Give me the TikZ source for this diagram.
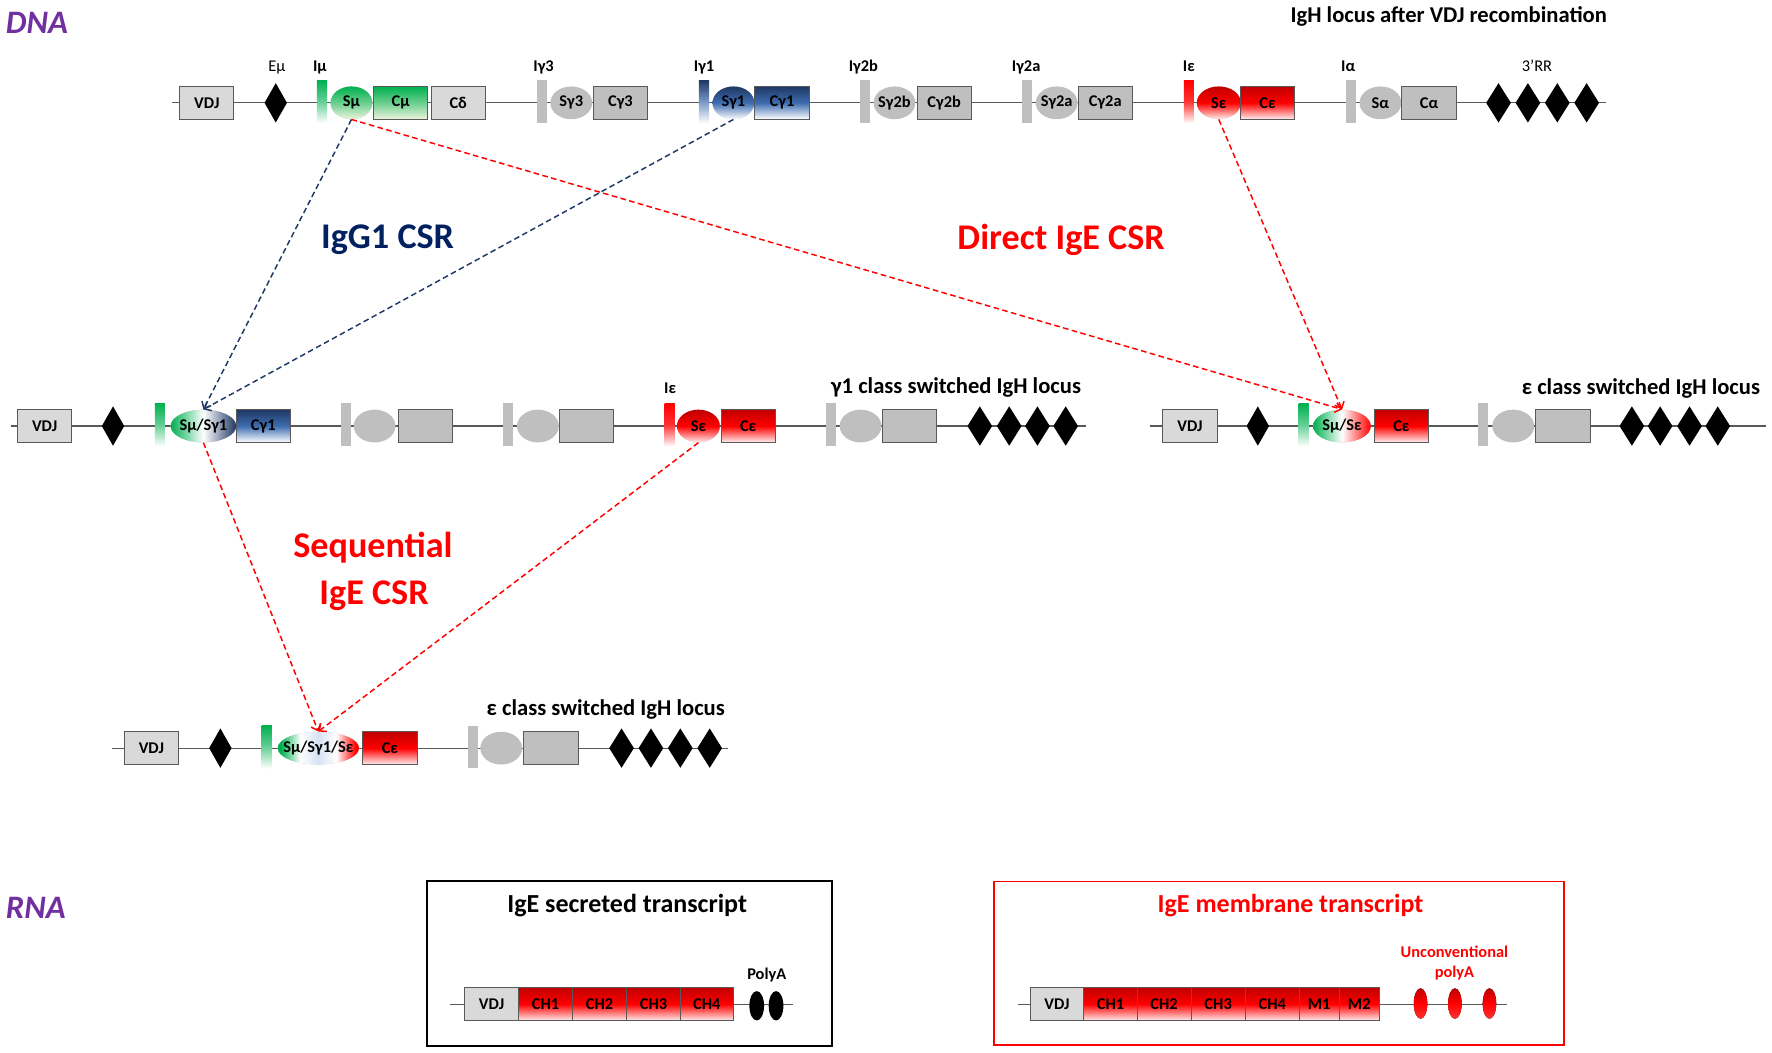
\documentclass[tikz,border=0pt]{standalone}
\usepackage{fontspec}
\setmainfont{Carlito}
\usetikzlibrary{shapes.geometric,arrows.meta,positioning}
\definecolor{dnapurple}{HTML}{7030A0}
\definecolor{sgreen}{HTML}{00B050}
\definecolor{sgreenlt}{HTML}{EEF4DC}
\definecolor{snavy}{HTML}{1F3864}
\definecolor{snavytxt}{HTML}{002060}
\definecolor{sblue}{HTML}{3E6DB0}
\definecolor{sbluelt}{HTML}{D5E2F3}
\definecolor{sred}{HTML}{FF0000}
\definecolor{sdred}{HTML}{C00000}
\definecolor{gfill}{HTML}{BFBFBF}
\definecolor{glight}{HTML}{D9D9D9}
\definecolor{gline}{HTML}{595959}
\pgfdeclarehorizontalshading{triswitch}{100bp}{color(0bp)=(sgreen); color(27bp)=(sgreen); color(39bp)=(white); color(50bp)=(sbluelt); color(61bp)=(white); color(73bp)=(sred); color(100bp)=(sred)}
\newcommand{\fsbox}{\fontsize{14.5}{16}\selectfont\bfseries}
\newcommand{\fsreg}{\fontsize{14.5}{16}\selectfont}
\newcommand{\fstitle}{\fontsize{20}{24}\selectfont\bfseries}
\newcommand{\fsrna}{\fontsize{23}{27}\selectfont\bfseries}
\newcommand{\fsbig}{\fontsize{32}{38}\selectfont\bfseries}
\newcommand{\fshead}{\fontsize{29}{34}\selectfont\bfseries\itshape}
\tikzset{
  dna/.style={draw=gline, line width=1pt},
  seg/.style={rectangle, draw=gline, line width=0.8pt, fill=gfill, minimum width=48pt, minimum height=29pt, inner sep=0pt, font=\fsbox},
  vdj/.style={seg, fill=glight},
  sreg/.style={ellipse, fill=gfill, minimum width=37pt, minimum height=29pt, inner sep=0pt},
  ibar/.style={rectangle, fill=gfill, minimum width=9pt, minimum height=38pt, inner sep=0pt},
  enh/.style={diamond, fill=black, minimum width=20pt, minimum height=35pt, inner sep=0pt},
  glab/.style={font=\fsbox, anchor=base, inner sep=0pt},
  % middle color last: top/bottom color reset it
  grn/.style={top color=sgreen, bottom color=sgreenlt, middle color=sgreen!55!sgreenlt},
  blu/.style={top color=snavy, bottom color=white, middle color=sblue},
  rd/.style={top color=sdred, bottom color=sred!6, middle color=sred},
  grnbar/.style={top color=sgreen, bottom color=white, middle color=sgreen!60!white},
  blubar/.style={top color=snavy, bottom color=white, middle color=sblue!70!white},
  redbar/.style={top color=sred, bottom color=white, middle color=sred!80!white},
  mgb/.style={left color=sgreen, right color=snavy, middle color=white},
  mgr/.style={left color=sgreen, right color=sred, middle color=white},
  frame/.style={rectangle, line width=1.5pt, inner sep=0pt},
  pa/.style={ellipse, fill=black, minimum width=13pt, minimum height=26pt, inner sep=0pt},
  csr/.style={dash pattern=on 5pt off 3pt, line width=1.3pt, -{Straight Barb[length=5pt,width=9pt]}}
}
\begin{document}
\begin{tikzpicture}[x=1pt,y=-1pt,every label/.append style={font=\fsbox}]
\useasboundingbox (0,0) rectangle (1568,931);
% headings
\node[anchor=base west, font=\fshead, text=dnapurple, inner sep=0pt] (dna) at (5,29.5) {DNA};
\node[anchor=base west, font=\fshead, text=dnapurple, inner sep=0pt] (rna) at (5,813) {RNA};
\node[anchor=base, font=\fstitle, inner sep=0pt] (tTop) at (1282,20) {IgH locus after VDJ recombination};

% germline locus
\coordinate (a0) at (152,91); \coordinate (a1) at (1421,91);
\draw[dna] (a0) -- (a1);
\node[vdj] (vdjA) at (183,91) {VDJ};
\node[enh] (EmuA) at (244,91) {};
\node[ibar,grnbar] (Imu) at (285,90) {};
\node[sreg,grn,label=center:Sμ] (Smu) at (311,91) {};
\node[seg,grn] (Cmu) at (354.5,91) {Cμ};
\node[vdj] (Cd) at (405.5,91) {Cδ};
\node[ibar] (Ig3) at (479.5,90) {};
\node[sreg,label=center:Sγ3] (Sg3) at (505.5,91) {};
\node[seg] (Cg3) at (549,91) {Cγ3};
\node[ibar,blubar] (Ig1) at (623,90) {};
\node[sreg,blu,label=center:Sγ1] (Sg1) at (649,91) {};
\node[seg,blu] (Cg1) at (692,91) {Cγ1};
\node[ibar] (Ig2b) at (765.5,90) {};
\node[sreg,label=center:Sγ2b] (Sg2b) at (791.5,91) {};
\node[seg] (Cg2b) at (835.5,91) {Cγ2b};
\node[ibar] (Ig2a) at (909,90) {};
\node[sreg,label=center:Sγ2a] (Sg2a) at (935,91) {};
\node[seg] (Cg2a) at (978,91) {Cγ2a};
\node[ibar,redbar] (Ie) at (1052,90) {};
\node[sreg,rd,minimum width=39pt,label=center:Sε] (Se) at (1078.5,91) {};
\node[seg,rd] (Ce) at (1121.5,91) {Cε};
\node[ibar] (Ia) at (1195.5,90) {};
\node[sreg,label=center:Sα] (Sa) at (1221.5,91) {};
\node[seg] (Ca) at (1264.5,91) {Cα};
\foreach \x [count=\i] in {1326,1352,1378,1404}
  \node[enh,minimum width=22pt] (rrA\i) at (\x,91) {};
\foreach \x/\t [count=\i] in {283/Iμ,481/Iγ3,623/Iγ1,764/Iγ2b,908/Iγ2a,1052/Iε,1193/Iα}
  \node[glab] (lA\i) at (\x,63) {\t};
\node[glab,font=\fsreg] (lEmu) at (245,63) {Eμ};
\node[glab,font=\fsreg] (lRR) at (1360,63) {3’RR};

% gamma1 switched locus
\coordinate (b0) at (10,377); \coordinate (b1) at (961,377);
\draw[dna] (b0) -- (b1);
\node[vdj] (vdjB) at (39.5,377) {VDJ};
\node[enh] (EmuB) at (100,377) {};
\node[ibar,grnbar] (ImuB) at (141.5,376) {};
\node[sreg,mgb,minimum width=58pt,label=center:Sμ/Sγ1] (SmuSg1) at (180,377) {};
\node[seg,blu] (Cg1B) at (233,377) {Cγ1};
\node[ibar] (gB1) at (306,376) {};
\node[sreg] (gB2) at (331.5,377) {};
\node[seg] (gB3) at (376.5,377) {};
\node[ibar] (gB4) at (449.5,376) {};
\node[sreg] (gB5) at (476,377) {};
\node[seg] (gB6) at (519,377) {};
\node[ibar,redbar] (IeB) at (592.5,376) {};
\node[sreg,rd,minimum width=38pt,label=center:Sε] (SeB) at (618,377) {};
\node[seg,rd] (CeB) at (662,377) {Cε};
\node[ibar] (gB7) at (735.5,376) {};
\node[sreg] (gB8) at (761.5,377) {};
\node[seg] (gB9) at (805,377) {};
\foreach \x [count=\i] in {867,893,918,943}
  \node[enh,minimum width=22pt] (rrB\i) at (\x,377) {};
\node[glab] (lIeB) at (593,348) {Iε};
\node[anchor=base, font=\fstitle, inner sep=0pt] (tB) at (846,348) {γ1 class switched IgH locus};

% epsilon switched locus (direct)
\coordinate (c0) at (1018,377); \coordinate (c1) at (1563,377);
\draw[dna] (c0) -- (c1);
\node[vdj] (vdjC) at (1053,377) {VDJ};
\node[enh] (EmuC) at (1113,377) {};
\node[ibar,grnbar] (ImuC) at (1153.5,376) {};
\node[sreg,mgr,minimum width=51pt,label=center:Sμ/Sε] (SmuSe) at (1187.5,377) {};
\node[seg,rd] (CeC) at (1240,377) {Cε};
\node[ibar] (gC1) at (1312.5,376) {};
\node[sreg] (gC2) at (1339,377) {};
\node[seg] (gC3) at (1383,377) {};
\foreach \x [count=\i] in {1444,1469,1495,1520}
  \node[enh,minimum width=22pt] (rrC\i) at (\x,377) {};
\node[anchor=base, font=\fstitle, inner sep=0pt] (tC) at (1452,349) {ε class switched IgH locus};

% epsilon switched locus (sequential)
\coordinate (d0) at (99.5,662); \coordinate (d1) at (644,662);
\draw[dna] (d0) -- (d1);
\node[vdj] (vdjD) at (134,662) {VDJ};
\node[enh] (EmuD) at (195,662) {};
\node[ibar,grnbar] (ImuD) at (236,661) {};
\node[sreg,shading=triswitch,shade,minimum width=72pt,label=center:Sμ/Sγ1/Sε] (tri) at (281.7,662) {};
\node[seg,rd] (CeD) at (345,662) {Cε};
\node[ibar] (gD1) at (418.5,661) {};
\node[sreg] (gD2) at (443.5,662) {};
\node[seg] (gD3) at (487.5,662) {};
\foreach \x [count=\i] in {550,576,602,628}
  \node[enh,minimum width=22pt] (rrD\i) at (\x,662) {};
\node[anchor=base, font=\fstitle, inner sep=0pt] (tD) at (536,633) {ε class switched IgH locus};

% recombinations
\draw[csr,snavy] (Smu.south) -- (SmuSg1.north);
\draw[csr,snavy] (Sg1.south) -- (SmuSg1.north);
\draw[csr,sred] (Smu.south) -- (SmuSe.north);
\draw[csr,sred] (Se.south) -- (SmuSe.north);
\draw[csr,sred] (SmuSg1.south) -- (tri.north);
\draw[csr,sred] (SeB.south) -- (tri.north);
\node[anchor=base, font=\fsbig, text=snavytxt, inner sep=0pt] (lIgG1) at (343,220) {IgG1 CSR};
\node[anchor=base, font=\fsbig, text=sred, inner sep=0pt] (lDir) at (939,221) {Direct IgE CSR};
\node[anchor=base, font=\fsbig, text=sred, inner sep=0pt] (lSeq1) at (330,493) {Sequential};
\node[anchor=base, font=\fsbig, text=sred, inner sep=0pt] (lSeq2) at (331,535) {IgE CSR};

% secreted transcript
\node[frame,draw=black,minimum width=358pt,minimum height=146pt] (secF) at (557,852.6) {};
\node[anchor=base, font=\fsrna, inner sep=0pt] (tSec) at (555,807) {IgE secreted transcript};
\coordinate (s0) at (398.5,889); \coordinate (s1) at (701.5,889);
\draw[dna] (s0) -- (s1);
\node[vdj,minimum height=29.5pt] (vdjS) at (435,888.5) {VDJ};
\foreach \x [count=\i] in {482.8,530.6,578.3,625.5}
  \node[seg,rd,minimum width=47.6pt,minimum height=29.5pt] (chS\i) at (\x,888.5) {CH\i};
\node[pa] (paS1) at (669.6,890) {};
\node[pa] (paS2) at (686.7,890) {};
\node[glab] (lPa) at (678.5,866.7) {PolyA};

% membrane transcript
\node[frame,draw=sred,minimum width=504.6pt,minimum height=144.6pt] (memF) at (1131.7,852.3) {};
\node[anchor=base, font=\fsrna, text=sred, inner sep=0pt] (tMem) at (1142,807) {IgE membrane transcript};
\coordinate (m0) at (900.4,889); \coordinate (m1) at (1333.8,889);
\draw[dna] (m0) -- (m1);
\node[vdj,minimum width=47.4pt,minimum height=29.5pt] (vdjM) at (935.3,888.5) {VDJ};
\foreach \x [count=\i] in {982.7,1030.1,1077.9,1125.8}
  \node[seg,rd,minimum width=47.5pt,minimum height=29.5pt] (chM\i) at (\x,888.5) {CH\i};
\node[seg,rd,minimum width=35.2pt,minimum height=29.5pt] (mM1) at (1167.2,888.5) {M1};
\node[seg,rd,minimum width=35.9pt,minimum height=29.5pt] (mM2) at (1202.8,888.5) {M2};
\foreach \x [count=\i] in {1257,1287.4,1318}
  \node[pa,minimum width=12pt,minimum height=27pt,top color=sdred,bottom color=sred!80,middle color=sred] (paM\i) at (\x,888) {};
\node[glab,text=sred] (lUnc1) at (1287,847) {Unconventional};
\node[glab,text=sred] (lUnc2) at (1287,865) {polyA};
\end{tikzpicture}
\end{document}
